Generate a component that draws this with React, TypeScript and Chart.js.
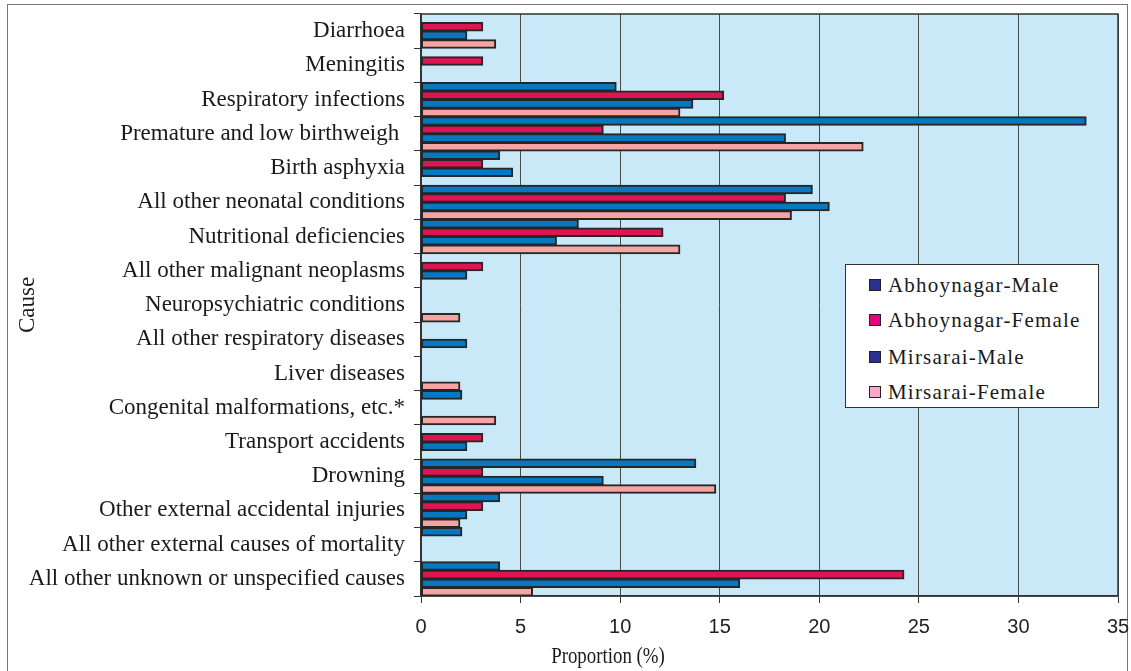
import React, { useEffect, useRef } from "react";
import { Chart, registerables } from "chart.js";

Chart.register(...registerables);

const categories = [
  "Diarrhoea",
  "Meningitis",
  "Respiratory infections",
  "Premature and low birthweigh ",
  "Birth asphyxia",
  "All other neonatal conditions",
  "Nutritional deficiencies",
  "All other malignant neoplasms",
  "Neuropsychiatric conditions",
  "All other respiratory diseases",
  "Liver diseases",
  "Congenital malformations, etc.*",
  "Transport accidents",
  "Drowning",
  "Other external accidental injuries",
  "All other external causes of mortality",
  "All other unknown or unspecified causes",
];

const abhoynagarMale = [null, null, 9.8, 33.4, 3.95, 19.65, 7.9, null, null, null, null, 2.05, null, 13.8, 3.95, 2.05, 3.95];
const abhoynagarFemale = [3.1, 3.1, 15.2, 9.15, 3.1, 18.3, 12.15, 3.1, null, null, null, null, 3.1, 3.1, 3.1, null, 24.25];
const mirsaraiMale = [2.3, null, 13.65, 18.3, 4.6, 20.5, 6.8, 2.3, null, 2.3, null, null, 2.3, 9.15, 2.3, null, 16.0];
const mirsaraiFemale = [3.75, null, 13.0, 22.2, null, 18.6, 13.0, null, 1.95, null, 1.95, 3.75, null, 14.8, 1.95, null, 5.6];

const seriesNames = ["Abhoynagar-Male", "Abhoynagar-Female", "Mirsarai-Male", "Mirsarai-Female"];
const xTicks = [0, 5, 10, 15, 20, 25, 30, 35];

const barColors = ["#0479C2", "#DE1552", "#0479C2", "#F5A3A3"];
const legendColors = ["#2B3190", "#E5037D", "#2B3190", "#F6A9C9"];

const W = 1131;
const H = 671;

const bgPlugin = {
  id: "plotBg",
  beforeDraw(chart: any) {
    const { ctx, chartArea } = chart;
    ctx.save();
    ctx.fillStyle = "#C9E9F8";
    ctx.fillRect(chartArea.left, chartArea.top, chartArea.right - chartArea.left, chartArea.bottom - chartArea.top);
    ctx.restore();
  },
  beforeDatasetsDraw(chart: any) {
    const { ctx, chartArea } = chart;
    ctx.save();
    ctx.strokeStyle = "#333";
    ctx.lineWidth = 1.5;
    ctx.strokeRect(chartArea.left, chartArea.top, chartArea.right - chartArea.left, chartArea.bottom - chartArea.top);
    ctx.restore();
  },
};

export default function App() {
  const ref = useRef<HTMLCanvasElement | null>(null);

  useEffect(() => {
    document.body.style.margin = "0";
    const canvas = ref.current!;
    const data = [abhoynagarMale, abhoynagarFemale, mirsaraiMale, mirsaraiFemale];
    const chart = new Chart(canvas, {
      type: "bar",
      data: {
        labels: categories,
        datasets: seriesNames.map((name, i) => ({
          label: name,
          data: data[i] as any,
          backgroundColor: barColors[i],
          borderColor: "#262626",
          borderWidth: 2,
          borderSkipped: false,
          inflateAmount: 0.5,
          categoryPercentage: 1.0,
          barPercentage: 1.0,
        })),
      },
      options: {
        indexAxis: "y",
        animation: false,
        responsive: false,
        devicePixelRatio: 1,
        layout: { padding: { left: 8, top: 14, right: 13, bottom: 0 } },
        plugins: {
          legend: { display: false },
          tooltip: { enabled: false },
        },
        scales: {
          x: {
            min: 0,
            max: 35,
            afterBuildTicks: (scale: any) => {
              scale.ticks = xTicks.map((v) => ({ value: v }));
            },
            afterFit: (scale: any) => {
              scale.height = H - 596;
              scale.paddingLeft = 0;
              scale.paddingRight = 0;
            },
            grid: {
              color: "#4a4a4a",
              lineWidth: 1,
              tickLength: 7,
              tickColor: "#333",
            },
            border: { color: "#333", width: 1.5 },
            ticks: {
              color: "#222",
              padding: 12,
              font: { family: "'Liberation Sans Narrow', 'Liberation Sans', Arial, sans-serif", size: 20 },
            },
          },
          y: {
            afterFit: (scale: any) => {
              scale.width = 421 - 8;
              scale.paddingTop = 0;
              scale.paddingBottom = 0;
            },
            grid: {
              drawOnChartArea: false,
              offset: true,
              tickLength: 7,
              tickColor: "#333",
            },
            border: { color: "#333", width: 1.5 },
            ticks: {
              color: "#1a1a1a",
              padding: 9,
              autoSkip: false,
              font: { family: "'Liberation Serif', 'Times New Roman', serif", size: 23 },
            },
            title: {
              display: true,
              text: "Cause",
              color: "#1a1a1a",
              padding: { top: 6, bottom: 0 },
              font: { family: "'Liberation Serif', 'Times New Roman', serif", size: 23 },
            },
          },
        },
      },
      plugins: [bgPlugin],
    });
    return () => chart.destroy();
  }, []);

  return (
    <div style={{ position: "fixed", left: 0, top: 0, width: W, height: H, background: "#fff", overflow: "hidden" }}>
      <div
        style={{
          position: "absolute",
          left: 7,
          top: 4,
          width: W - 10,
          height: H + 20,
          border: "1px solid #777",
          boxSizing: "border-box",
        }}
      />
      <canvas ref={ref} width={W} height={H} style={{ position: "absolute", left: 0, top: 0, width: W, height: H }} />
      <div
        style={{
          position: "absolute",
          left: 508,
          width: 200,
          top: 643,
          textAlign: "center",
          fontFamily: "'Liberation Serif', 'Times New Roman', serif",
          fontSize: 23,
          transform: "scaleX(0.82)",
          color: "#1a1a1a",
          lineHeight: "26px",
        }}
      >
        Proportion (%)
      </div>
      <div
        style={{
          position: "absolute",
          left: 845,
          top: 264,
          width: 254,
          height: 144,
          background: "#fff",
          border: "1.5px solid #333",
          boxSizing: "border-box",
        }}
      >
        {seriesNames.map((name, i) => (
          <div
            key={name}
            style={{
              position: "absolute",
              left: 23,
              top: [20, 55, 92, 127][i] - 13,
              height: 26,
              display: "flex",
              alignItems: "center",
              whiteSpace: "nowrap",
            }}
          >
            <span
              style={{
                display: "inline-block",
                width: 12,
                height: 12,
                background: legendColors[i],
                border: "1.5px solid #222",
                boxSizing: "border-box",
                marginRight: 7,
              }}
            />
            <span
              style={{
                fontFamily: "'Liberation Serif', 'Times New Roman', serif",
                fontSize: 21,
                letterSpacing: "1.2px",
                color: "#1a1a1a",
              }}
            >
              {name}
            </span>
          </div>
        ))}
      </div>
    </div>
  );
}
